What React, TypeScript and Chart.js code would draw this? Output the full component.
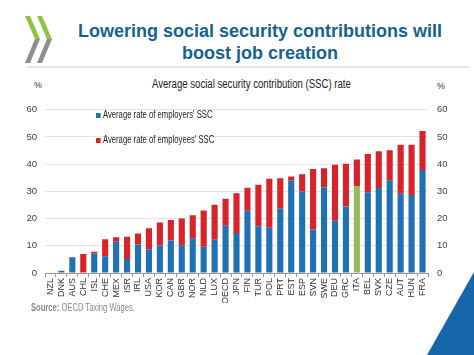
import React, { useEffect, useRef } from "react";
import { Chart, registerables } from "chart.js";

Chart.register(...registerables);

const countries = ["NZL","DNK","AUS","CHL","ISL","CHE","MEX","ISR","IRL","USA","KOR","CAN","GBR","NOR","NLD","LUX","OECD","JPN","FIN","TUR","POL","PRT","EST","ESP","SVN","SWE","DEU","GRC","ITA","BEL","SVK","CZE","AUT","HUN","FRA"];
const employersSSC = [0,0.8,5.8,0,7.2,6.2,11.5,5.1,10.5,8.7,10.1,11.9,10.2,12.8,9.6,12.2,17.4,14.7,22.9,17.2,16.6,23.6,33.9,29.9,16.0,31.4,19.2,24.4,32.0,29.7,31.2,34.1,29.1,28.7,37.8];
const employeesSSC = [0,0,0,7.0,0.6,6.2,1.6,8.2,4.0,7.7,8.5,7.6,9.8,8.4,13.4,12.9,9.9,14.6,8.4,15.2,18.0,11.2,1.6,6.4,22.2,7.1,20.6,15.7,9.7,14.0,13.5,11.0,18.0,18.4,14.4];
const yTicks = [0,10,20,30,40,50,60];
const seriesNames = ["Average rate of employers' SSC","Average rate of employees' SSC"];
const highlight = "ITA";

const BLUE = "#1f71b4";
const RED = "#d8232b";
const GREEN = "#97ba5f";
const FONT = "'Liberation Sans', Arial, sans-serif";

export default function App() {
  const ref = useRef<HTMLCanvasElement | null>(null);
  useEffect(() => {
    if (!ref.current) return;
    const chart = new Chart(ref.current, {
      type: "bar",
      data: {
        labels: countries,
        datasets: [
          {
            label: seriesNames[0],
            data: employersSSC,
            backgroundColor: countries.map((c) => (c === highlight ? GREEN : BLUE)),
            borderWidth: 0,
            barPercentage: 0.56,
            categoryPercentage: 1,
          },
          {
            label: seriesNames[1],
            data: employeesSSC,
            backgroundColor: RED,
            borderWidth: 0,
            barPercentage: 0.56,
            categoryPercentage: 1,
          },
        ],
      },
      options: {
        animation: false,
        responsive: false,
        maintainAspectRatio: false,
        layout: { padding: { top: 6, left: 0, right: 0, bottom: 0 } },
        plugins: { legend: { display: false }, tooltip: { enabled: false }, title: { display: false } },
        scales: {
          x: {
            stacked: true,
            offset: true,
            grid: { display: true, drawOnChartArea: false, offset: true, tickLength: 4, color: "#9a9a9a" },
            border: { display: true, color: "#9a9a9a" },
            ticks: { minRotation: 90, maxRotation: 90, autoSkip: false, padding: 1, color: "#333", font: { family: FONT, size: 9 } },
            afterFit: (s: any) => { s.height = 30; },
          },
          y: {
            stacked: true,
            position: "left",
            min: 0,
            max: 60,
            afterBuildTicks: (s: any) => { s.ticks = yTicks.map((v) => ({ value: v })); },
            grid: { color: "#e2e2e2", drawTicks: false },
            border: { display: false },
            ticks: { padding: 8, color: "#444", font: { family: FONT, size: 9.5 } },
            afterFit: (s: any) => { s.width = 45; },
          },
          y2: {
            position: "right",
            min: 0,
            max: 60,
            afterBuildTicks: (s: any) => { s.ticks = yTicks.map((v) => ({ value: v })); },
            grid: { display: false, drawTicks: false },
            border: { display: false },
            ticks: { padding: 9, color: "#444", font: { family: FONT, size: 9.5 } },
            afterFit: (s: any) => { s.width = 46; },
          },
        },
      },
    });
    return () => chart.destroy();
  }, []);

  const squeeze = (sx: number) => ({ transform: `scaleX(${sx})`, transformOrigin: "left center" });
  return (
    <div style={{ position: "absolute", left: 0, top: 0, width: 474, height: 355, background: "#fff", overflow: "hidden", fontFamily: FONT }}>
      <svg width={474} height={355} style={{ position: "absolute", left: 0, top: 0 }}>
        <polygon points="25,16 30,16 40,39 35,39" fill="#8cc63f" />
        <polygon points="35,39 40,39 30,63 25,63" fill="#8f8f8f" />
        <polygon points="37,16 42,16 52,39 47,39" fill="#8cc63f" />
        <polygon points="47,39 52,39 42,63 37,63" fill="#8f8f8f" />
        <line x1={27} y1={67} x2={470} y2={67} stroke="#d0d0d0" strokeWidth={1} />
        <polygon points="427,355 474,272 474,355" fill="#1766aa" />
      </svg>
      <div style={{ position: "absolute", left: 60, top: 20, width: 400, textAlign: "center", color: "#17628f", fontWeight: "bold", fontSize: 18, lineHeight: "22px" }}>
        Lowering social security contributions will<br />boost job creation
      </div>
      <div style={{ position: "absolute", left: 152, top: 77, fontSize: 12, color: "#222", whiteSpace: "nowrap", ...squeeze(0.8) }}>
        Average social security contribution (SSC) rate
      </div>
      <div style={{ position: "absolute", left: 34, top: 80, fontSize: 9, color: "#333" }}>%</div>
      <div style={{ position: "absolute", left: 437, top: 81, fontSize: 9, color: "#333" }}>%</div>
      <canvas ref={ref} width={474} height={208} style={{ position: "absolute", left: 0, top: 95, width: 474, height: 208 }} />
      <div style={{ position: "absolute", left: 96, top: 109, fontSize: 10, color: "#222", whiteSpace: "nowrap", lineHeight: "12px", ...squeeze(0.77) }}>
        <span style={{ display: "inline-block", width: 6, height: 5, background: BLUE, marginRight: 3, verticalAlign: "middle" }} />
        {seriesNames[0]}
      </div>
      <div style={{ position: "absolute", left: 96, top: 134, fontSize: 10, color: "#222", whiteSpace: "nowrap", lineHeight: "12px", ...squeeze(0.77) }}>
        <span style={{ display: "inline-block", width: 6, height: 5, background: RED, marginRight: 3, verticalAlign: "middle" }} />
        {seriesNames[1]}
      </div>
      <div style={{ position: "absolute", left: 31, top: 302, fontSize: 10, color: "#8a8a8a", whiteSpace: "nowrap", ...squeeze(0.76) }}>
        <b>Source:</b> OECD Taxing Wages.
      </div>
    </div>
  );
}
